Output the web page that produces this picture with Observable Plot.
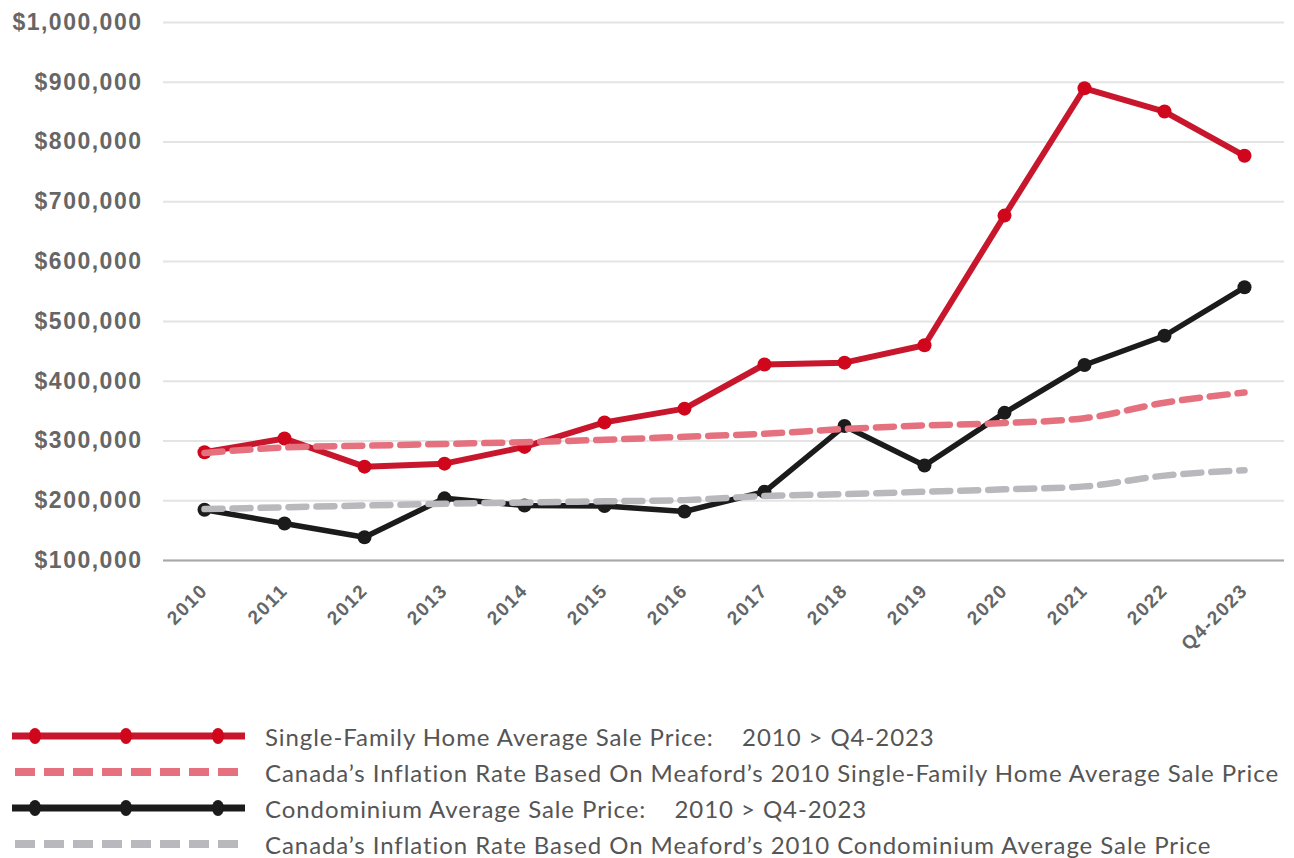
<!DOCTYPE html>
<html>
<head>
<meta charset="utf-8">
<script src="https://cdn.jsdelivr.net/npm/d3@7"></script>
<script src="https://cdn.jsdelivr.net/npm/@observablehq/plot@0.6"></script>
<style>
  html, body { margin: 0; padding: 0; background: #fff; }
  #chart svg { display: block; }
  #legend { margin-top: 38px; font-family: Lato, "Open Sans", sans-serif; font-size: 24px; letter-spacing: 0.93px; color: #555; }
  .row { display: flex; align-items: center; height: 36px; }
  .row svg { flex: none; margin-left: 12px; margin-right: 20px; }
</style>
</head>
<body>
<div id="chart"></div>
<div id="legend"></div>
<script>
const years = ["2010","2011","2012","2013","2014","2015","2016","2017","2018","2019","2020","2021","2022","Q4-2023"];
const singleFamily = [281000, 304000, 257000, 262000, 290000, 331000, 354000, 428000, 431000, 460000, 677000, 890000, 851000, 777000];
const sfInflation = [280000, 289000, 292000, 295000, 298000, 302000, 307000, 312000, 320000, 326000, 330000, 338000, 364000, 381000];
const condo = [185000, 162000, 139000, 204000, 192000, 191000, 182000, 215000, 325000, 259000, 347000, 427000, 476000, 557000];
const condoInflation = [186000, 189000, 192000, 195000, 197000, 199000, 201000, 208000, 211000, 215000, 219000, 224000, 242000, 251000];
const yTicks = [100000, 200000, 300000, 400000, 500000, 600000, 700000, 800000, 900000, 1000000];
const seriesNames = [
  "Single-Family Home Average Sale Price:    2010 > Q4-2023",
  "Canada\u2019s Inflation Rate Based On Meaford\u2019s 2010 Single-Family Home Average Sale Price",
  "Condominium Average Sale Price:    2010 > Q4-2023",
  "Canada\u2019s Inflation Rate Based On Meaford\u2019s 2010 Condominium Average Sale Price"
];

const RED = "#c8172d", RED_DOT = "#d0071c", PINK = "#e5717f", BLACK = "#1b1b1b", GRAY = "#b9b9bd";

const toRows = (vals) => years.map((y, i) => ({year: y, value: vals[i]}));
const sf = toRows(singleFamily), sfi = toRows(sfInflation), co = toRows(condo), coi = toRows(condoInflation);

const fmt = d3.format("$,");

const chart = Plot.plot({
  width: 1294,
  height: 680,
  marginLeft: 163,
  marginRight: 10,
  marginTop: 22,
  marginBottom: 120,
  style: { fontFamily: "'Liberation Sans', Arial, sans-serif", fontWeight: "bold", color: "#666", background: "#fff", letterSpacing: "1.5px" },
  x: { type: "point", domain: years, padding: 0.5, label: null },
  y: { domain: [100000, 1000000], label: null },
  marks: [
    Plot.gridY(yTicks, { stroke: "#e4e4e4", strokeOpacity: 1, strokeWidth: 2 }),
    Plot.ruleY([100000], { stroke: "#a8a8a8", strokeWidth: 2 }),
    Plot.axisY(yTicks, { tickSize: 0, tickPadding: 21, tickFormat: fmt, fontSize: 23, fill: "#666", fontWeight: "bold" }),
    Plot.axisX(years, { tickSize: 0, tickPadding: 27, tickRotate: -45, fontSize: 19, fill: "#666", fontWeight: "bold" }),
    Plot.line(sf, { x: "year", y: "value", stroke: RED, strokeWidth: 6 }),
    Plot.dot(sf, { x: "year", y: "value", r: 7, fill: RED_DOT }),
    Plot.line(co, { x: "year", y: "value", stroke: BLACK, strokeWidth: 5.5 }),
    Plot.dot(co, { x: "year", y: "value", r: 7, fill: BLACK }),
    Plot.line(sfi, { x: "year", y: "value", stroke: PINK, strokeWidth: 6.5, strokeDasharray: "18,10", curve: "monotone-x" }),
    Plot.line(coi, { x: "year", y: "value", stroke: GRAY, strokeWidth: 6.5, strokeDasharray: "18,10", curve: "monotone-x" })
  ]
});
document.getElementById("chart").appendChild(chart);

// Legend
const legendSpecs = [
  { color: RED, dot: RED_DOT, dashed: false },
  { color: PINK, dashed: true },
  { color: BLACK, dot: BLACK, dashed: false },
  { color: GRAY, dashed: true }
];
const legend = d3.select("#legend");
legendSpecs.forEach((s, i) => {
  const row = legend.append("div").attr("class", "row");
  const svg = row.append("svg").attr("width", 233).attr("height", 20);
  if (s.dashed) {
    svg.append("line").attr("x1", 3).attr("x2", 233).attr("y1", 10).attr("y2", 10)
      .attr("stroke", s.color).attr("stroke-width", 8).attr("stroke-dasharray", "20,9");
  } else {
    svg.append("line").attr("x1", 0).attr("x2", 233).attr("y1", 10).attr("y2", 10)
      .attr("stroke", s.color).attr("stroke-width", 7);
    [23, 114, 206].forEach(cx => svg.append("ellipse").attr("cx", cx).attr("cy", 10).attr("rx", 6).attr("ry", 8).attr("fill", s.dot));
  }
  row.append("span").style("white-space", "pre").text(seriesNames[i]);
});
</script>
</body>
</html>
